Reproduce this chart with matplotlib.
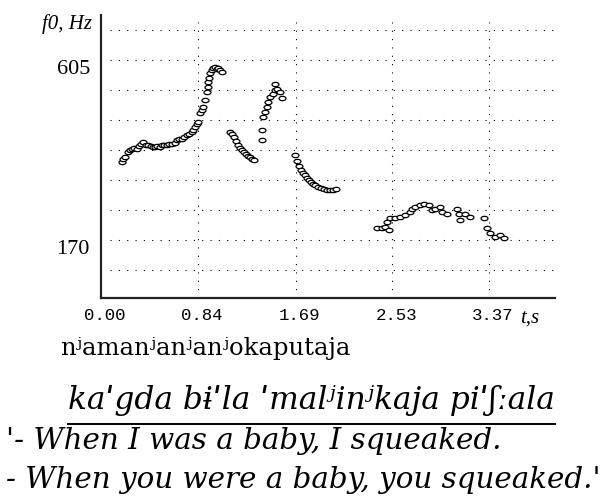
import numpy as np
import matplotlib
matplotlib.use('Agg')
import matplotlib.pyplot as plt
from matplotlib.path import Path
from matplotlib.lines import Line2D
import matplotlib.transforms as mtransforms

# f0 track (time in s, f0 in Hz), one list per voiced stretch
seg1_t = [0.18, 0.195, 0.209, 0.235, 0.25, 0.267, 0.29, 0.31, 0.33, 0.35, 0.368, 0.39,
          0.409, 0.43, 0.45, 0.47, 0.49, 0.51, 0.528, 0.55, 0.571, 0.59, 0.615, 0.64,
          0.658, 0.68, 0.702, 0.72, 0.745, 0.76, 0.788, 0.80, 0.817, 0.83, 0.846, 0.861,
          0.875, 0.889, 0.904, 0.919, 0.925, 0.933, 0.94, 0.948, 0.96, 0.976, 0.99,
          1.005, 1.02, 1.035, 1.049]
seg1_f0 = [359, 365, 371, 383, 387, 391, 393, 391, 397, 401, 407, 399,
           399, 397, 395, 395, 397, 395, 399, 399, 399, 401, 403, 405,
           411, 413, 415, 419, 423, 425, 431, 437, 444, 450, 456, 476,
           484, 492, 508, 528, 540, 552, 562, 573, 580, 585, 587,
           583, 585, 582, 576]

seg2_t = [1.121, 1.139, 1.156, 1.174, 1.191, 1.208, 1.226, 1.243, 1.26, 1.278, 1.295, 1.313, 1.33]
seg2_f0 = [431, 426, 418, 409, 399, 392, 387, 382, 378, 373, 370, 365, 363]

seg3_t = [1.397, 1.397, 1.411, 1.426, 1.44, 1.454, 1.469, 1.498, 1.513, 1.513, 1.527, 1.556, 1.571]
seg3_f0 = [411, 436, 468, 480, 492, 504, 516, 524, 532, 548, 536, 528, 512]

seg4_t = [1.686, 1.704, 1.721, 1.739, 1.756, 1.773, 1.791, 1.808, 1.826, 1.843, 1.86,
          1.886, 1.912, 1.939, 1.965, 1.991, 2.017, 2.043]
seg4_f0 = [375, 361, 349, 339, 332, 327, 320, 315, 310, 306, 303,
           299, 295, 293, 291, 291, 292, 293]

seg5_t = [2.397, 2.44, 2.469, 2.484, 2.497, 2.512, 2.556, 2.599, 2.643, 2.686, 2.701, 2.73,
          2.773, 2.802, 2.845, 2.875, 2.903, 2.947, 2.962, 3.005, 3.092, 3.106, 3.121,
          3.164, 3.208]
seg5_f0 = [198, 198, 202, 214, 194, 222, 222, 226, 230, 238, 246, 250,
           254, 258, 254, 242, 246, 250, 238, 234, 246, 234, 218,
           234, 226]

seg6_t = [3.323, 3.353, 3.382, 3.425, 3.469, 3.497]
seg6_f0 = [222, 198, 186, 178, 182, 174]

x_ticks = [0.0, 0.84, 1.69, 2.53, 3.37]
y_ticks = [170, 605]
y_grid = [97.5, 170, 242.5, 315, 387.5, 460, 532.5, 605, 677.5]

line_orig = "nʲamanʲanʲanʲokaputaja"
line_ipa = "kaˈgda bɨˈla ˈmalʲinʲkaja piˈʃːala"
line_tr1 = "'- When I was a baby, I squeaked."
line_tr2 = "- When you were a baby, you squeaked.'"

W, H = 611, 496
fig = plt.figure(figsize=(W / 100, H / 100), dpi=100)
ax = fig.add_axes([101 / W, 1 - 298 / H, 454 / W, 283 / H])

# dotted grid
dots = (0, (0.8, 5.2))
plt.rcParams['lines.scale_dashes'] = False
for y in y_grid:
    ax.axhline(y, xmin=0.02, xmax=1, color='black', lw=0.8, ls=dots, zorder=1)
for x in x_ticks[1:]:
    ax.axvline(x, ymin=0, ymax=0.975, color='black', lw=0.8, ls=dots, zorder=1)

# small open ellipses as markers
th = np.linspace(0, 2 * np.pi, 30)
ell = Path(np.c_[1.6 * np.cos(th), np.sin(th)], closed=True)
for tt, ff in [(seg1_t, seg1_f0), (seg2_t, seg2_f0), (seg3_t, seg3_f0),
               (seg4_t, seg4_f0), (seg5_t, seg5_f0), (seg6_t, seg6_f0)]:
    ax.plot(tt, ff, ls='none', marker=ell, ms=5, mfc='white', mec='black', mew=0.9, zorder=3)

ax.set_xlim(0, 3.943)
ax.set_ylim(29.8, 713.75)
for s in ['top', 'right']:
    ax.spines[s].set_visible(False)
for s in ['left', 'bottom']:
    ax.spines[s].set_linewidth(1.6)
    ax.spines[s].set_color('#222222')

ax.set_xticks(x_ticks)
ax.set_xticklabels(['%.2f' % v for v in x_ticks], family='Liberation Mono', fontsize=12.5)
ax.set_yticks(y_ticks)
ax.set_yticklabels([str(v) for v in y_ticks], family='Liberation Serif', fontsize=16)
ax.tick_params(axis='both', length=0)
ax.tick_params(axis='x', pad=7)
ax.tick_params(axis='y', pad=8)
plt.setp(ax.get_yticklabels(), va='top')
shift = mtransforms.ScaledTranslation(4 / 100, 0, fig.dpi_scale_trans)
for lab in ax.get_xticklabels():
    lab.set_transform(lab.get_transform() + shift)

fig.text(92 / W, 1 - 24 / H, 'f0, Hz', ha='right', va='center', family='Liberation Serif',
         style='italic', fontsize=15)
fig.text(520 / W, 1 - 318 / H, 't,s', ha='left', va='center', family='Liberation Serif',
         style='italic', fontsize=15)

# transcription and translation
fig.text(60 / W, 1 - 349 / H, line_orig, ha='left', va='center', family='DejaVu Serif', fontsize=17.5)
fig.text(68 / W, 1 - 400 / H, line_ipa, ha='left', va='center', family='DejaVu Serif',
         style='italic', fontsize=22.5)
fig.add_artist(Line2D([68 / W, 555 / W], [1 - 424 / H, 1 - 424 / H], color='black', lw=1.4))
fig.text(6 / W, 1 - 441 / H, line_tr1, ha='left', va='center', family='DejaVu Serif',
         style='italic', fontsize=21.2)
fig.text(6 / W, 1 - 480 / H, line_tr2, ha='left', va='center', family='DejaVu Serif',
         style='italic', fontsize=21.2)

fig.savefig('out.png', dpi=100, facecolor='white')
